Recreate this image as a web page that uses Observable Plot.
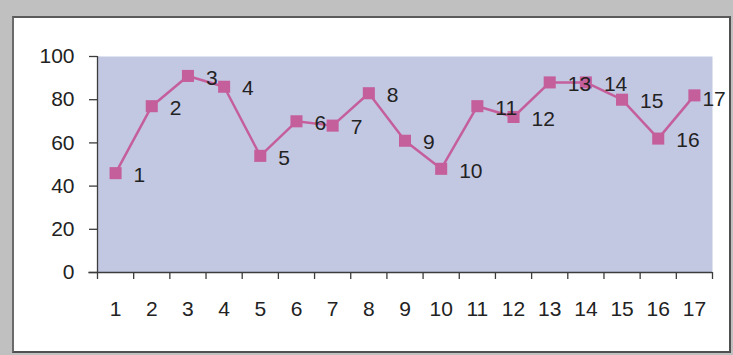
<!DOCTYPE html>
<html>
<head>
<meta charset="utf-8">
<script src="https://cdn.jsdelivr.net/npm/d3@7"></script>
<script src="https://cdn.jsdelivr.net/npm/@observablehq/plot@0.6"></script>
<style>
  html, body { margin: 0; padding: 0; }
  #wrap { position: relative; width: 733px; height: 355px; background: #c0c0c0; overflow: hidden; }
  #box { position: absolute; left: 12px; top: 16px; width: 719px; height: 337px; box-sizing: border-box;
         background: #ffffff; border: 2px solid #505050; border-left-color: #6a6a6a; border-top-color: #5a5a5a; }
  #chart { position: absolute; left: 0; top: 0; }
  #chart svg { background: transparent; }
</style>
</head>
<body>
<div id="wrap"><div id="box"></div><div id="chart"></div></div>
<script>
const categories = [1, 2, 3, 4, 5, 6, 7, 8, 9, 10, 11, 12, 13, 14, 15, 16, 17];
const values = [46, 77, 91, 86, 54, 70, 68, 83, 61, 48, 77, 72, 88, 88, 80, 62, 82];
const yTicks = [0, 20, 40, 60, 80, 100];

const data = categories.map((c, i) => ({cat: c, value: values[i]}));
const boundaries = [categories[0] - 0.5, ...categories.map(c => c + 0.5)];
const lineColor = "#c55f9c";
const axisColor = "#3c3c3c";
const font = "Liberation Sans, Arial, sans-serif";

const chart = Plot.plot({
  width: 733,
  height: 355,
  marginLeft: 97,
  marginRight: 21,
  marginTop: 56,
  marginBottom: 83,
  style: {fontFamily: font, fontSize: "21px", color: "#222", background: "transparent"},
  x: {type: "linear", domain: [boundaries[0], boundaries[boundaries.length - 1]]},
  y: {domain: [0, 100]},
  marks: [
    Plot.frame({fill: "#c2c7e2", stroke: "none"}),
    Plot.axisY({ticks: yTicks, tickSize: 8, tickPadding: 15, stroke: axisColor, strokeWidth: 1.3, label: null, fontSize: 21}),
    Plot.axisX({ticks: boundaries, tickSize: 7, tickFormat: () => "", stroke: axisColor, strokeWidth: 1.3, label: null}),
    Plot.axisX({ticks: categories, tickSize: 0, tickPadding: 29, tickFormat: d => String(d), label: null, fontSize: 21}),
    Plot.ruleX([boundaries[0]], {stroke: axisColor, strokeWidth: 1.3}),
    Plot.ruleY([0], {stroke: axisColor, strokeWidth: 1.3, x1: boundaries[0] - 0.24, x2: boundaries[boundaries.length - 1]}),
    Plot.line(data, {x: "cat", y: "value", stroke: lineColor, strokeWidth: 2.5}),
    Plot.dot(data, {x: "cat", y: "value", symbol: "square", r: 6.8, fill: lineColor, stroke: "none"}),
    Plot.text(data.slice(0, -1), {x: "cat", y: "value", text: d => String(d.cat), textAnchor: "start", dx: 18, dy: 2, fontSize: 21, fill: "#222"}),
    Plot.text(data.slice(-1), {x: "cat", y: "value", text: d => String(d.cat), textAnchor: "start", dx: 8, dy: 4, fontSize: 21, fill: "#222"})
  ]
});
document.getElementById("chart").appendChild(chart);
</script>
</body>
</html>
